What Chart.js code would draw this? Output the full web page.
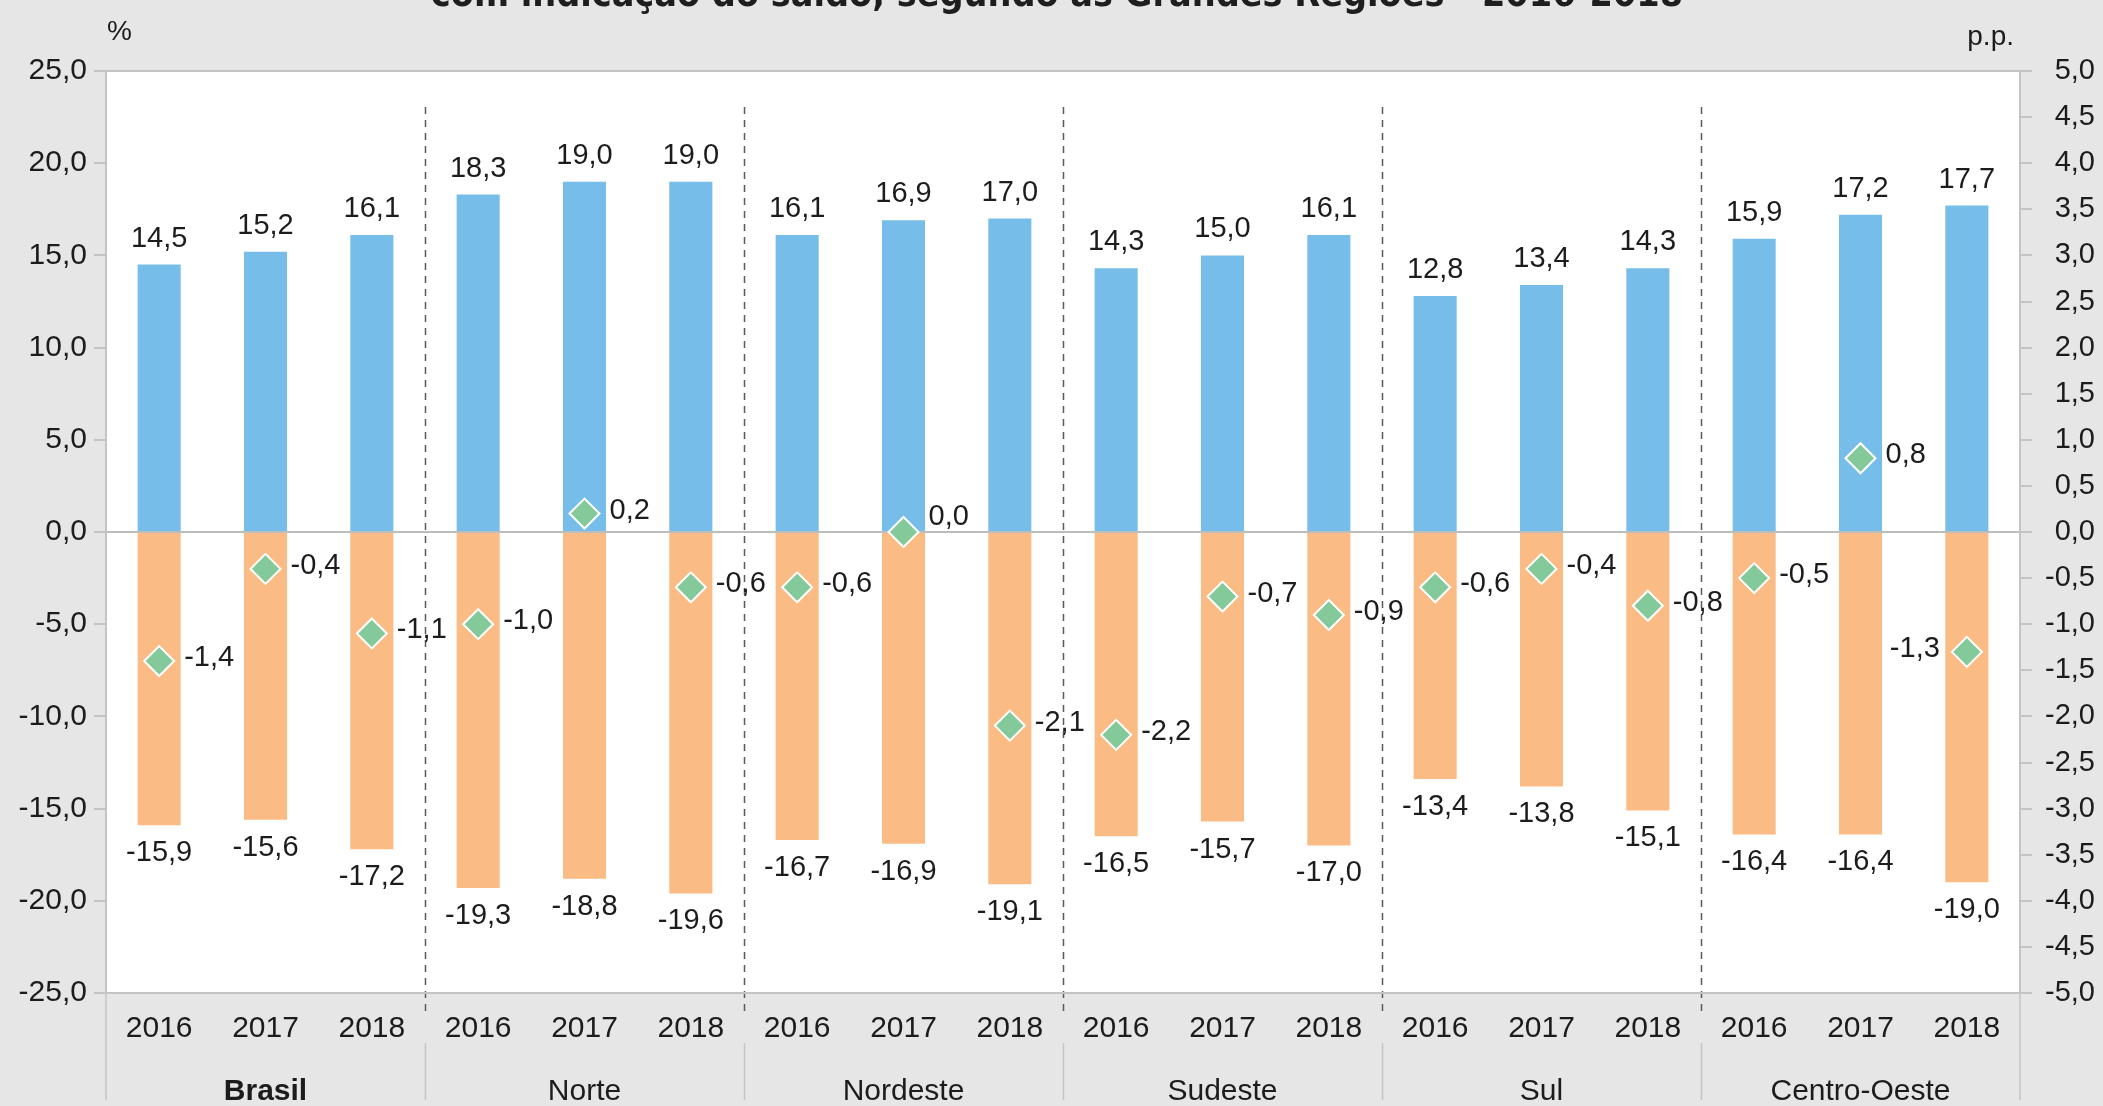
<!DOCTYPE html>
<html lang="pt-BR">
<head>
<meta charset="utf-8">
<title>Taxas de entrada e saída, com indicação do saldo</title>
<script src="https://cdn.jsdelivr.net/npm/chart.js@4.4.1/dist/chart.umd.min.js"></script>
<style>
  html, body { margin: 0; padding: 0; background: #e6e6e6; }
  #wrap { width: 2103px; height: 1106px; }
</style>
</head>
<body>
<div id="wrap"><canvas id="grafico" width="2103" height="1106"></canvas></div>
<script>
// Dados (taxas em %, saldo em p.p.)
const regioes = ['Brasil', 'Norte', 'Nordeste', 'Sudeste', 'Sul', 'Centro-Oeste'];
const anos = ['2016', '2017', '2018'];

const taxaEntrada = [14.5, 15.2, 16.1, 18.3, 19.0, 19.0, 16.1, 16.9, 17.0,
                     14.3, 15.0, 16.1, 12.8, 13.4, 14.3, 15.9, 17.2, 17.7];
const taxaSaida = [-15.9, -15.6, -17.2, -19.3, -18.8, -19.6, -16.7, -16.9, -19.1,
                   -16.5, -15.7, -17.0, -13.4, -13.8, -15.1, -16.4, -16.4, -19.0];
const saldo = [-1.4, -0.4, -1.1, -1.0, 0.2, -0.6, -0.6, 0.0, -2.1,
               -2.2, -0.7, -0.9, -0.6, -0.4, -0.8, -0.5, 0.8, -1.3];

const eixoPercent = { min: -25, max: 25, passo: 5 };
const eixoPP = { min: -5, max: 5, passo: 0.5 };

const categorias = regioes.flatMap(() => anos);

const FONTE = '"Liberation Sans", Arial, sans-serif';
const COR_TEXTO = '#1c1c1c';
const COR_LINHA = '#c4c4c4';
const TITULO = 'com indicação do saldo, segundo as Grandes Regiões - 2016-2018';

const fmt = v => v.toFixed(1).replace('.', ',');

// desenha fundo, separadores, rótulos e nomes das regiões
const extras = {
    id: 'extras',
    beforeDraw(chart) {
        const { ctx, chartArea: a } = chart;
        ctx.save();
        ctx.fillStyle = '#e6e6e6';
        ctx.fillRect(0, 0, chart.width, chart.height);
        ctx.fillStyle = '#ffffff';
        ctx.fillRect(a.left, a.top, a.right - a.left, a.bottom - a.top);
        ctx.restore();
    },
    beforeDatasetsDraw(chart) {
        const { ctx, chartArea: a, scales: { x } } = chart;
        ctx.save();
        ctx.strokeStyle = '#5a5a5a';
        ctx.lineWidth = 1.5;
        ctx.setLineDash([7, 6]);
        for (let g = 1; g < regioes.length; g++) {
            const i = g * anos.length;
            const px = Math.round((x.getPixelForValue(i - 1) + x.getPixelForValue(i)) / 2) + 0.5;
            ctx.beginPath();
            ctx.moveTo(px, a.top + 36);
            ctx.lineTo(px, a.bottom + 20);
            ctx.stroke();
        }
        ctx.restore();
    },
    afterDatasetsDraw(chart) {
        const { ctx } = chart;
        const barrasE = chart.getDatasetMeta(0).data;
        const barrasS = chart.getDatasetMeta(1).data;
        const pontos = chart.getDatasetMeta(2).data;
        ctx.save();
        ctx.font = '29px ' + FONTE;
        ctx.fillStyle = COR_TEXTO;
        ctx.textBaseline = 'middle';
        ctx.textAlign = 'center';
        barrasE.forEach((b, i) => ctx.fillText(fmt(taxaEntrada[i]), b.x, b.y - 26));
        barrasS.forEach((b, i) => ctx.fillText(fmt(taxaSaida[i]), b.x, b.y + 28));
        pontos.forEach((p, i) => {
            let dx = 25, dy = -3, alinh = 'left';
            if (saldo[i] === 0) dy = -15;
            if (i === pontos.length - 1) { dx = -27; alinh = 'right'; }
            ctx.textAlign = alinh;
            ctx.fillText(fmt(saldo[i]), p.x + dx, p.y + dy);
        });
        ctx.restore();
    },
    afterDraw(chart) {
        const { ctx, chartArea: a, scales: { x } } = chart;
        ctx.save();
        // moldura da área de plotagem
        ctx.strokeStyle = COR_LINHA;
        ctx.lineWidth = 2;
        ctx.strokeRect(a.left, a.top, a.right - a.left, a.bottom - a.top);

        // linhas verticais sob o eixo das categorias
        ctx.lineWidth = 1.5;
        ctx.beginPath();
        ctx.moveTo(a.left, a.bottom); ctx.lineTo(a.left, chart.height - 6);
        ctx.moveTo(a.right, a.bottom); ctx.lineTo(a.right, chart.height - 6);
        for (let g = 1; g < regioes.length; g++) {
            const i = g * anos.length;
            const px = Math.round((x.getPixelForValue(i - 1) + x.getPixelForValue(i)) / 2) + 0.5;
            ctx.moveTo(px, a.bottom + 50);
            ctx.lineTo(px, chart.height - 6);
        }
        ctx.stroke();

        // nomes das regiões
        ctx.fillStyle = COR_TEXTO;
        ctx.textAlign = 'center';
        ctx.textBaseline = 'middle';
        regioes.forEach((r, g) => {
            const cx = (x.getPixelForValue(g * 3) + x.getPixelForValue(g * 3 + 2)) / 2;
            ctx.font = (g === 0 ? 'bold ' : '') + '30px ' + FONTE;
            ctx.fillText(r, cx, 1092);
        });

        // unidades dos eixos
        ctx.font = '28px ' + FONTE;
        ctx.textBaseline = 'alphabetic';
        ctx.textAlign = 'left';
        ctx.fillText('%', 107, 40);
        ctx.textAlign = 'right';
        ctx.fillText('p.p.', 2014, 45);

        // última linha do título (cortada no topo), ajustada à largura original
        const famTitulo = '"Liberation Sans Narrow", "DejaVu Sans Condensed", sans-serif';
        ctx.font = 'bold 40px ' + famTitulo;
        const tam = 40 * 1251 / ctx.measureText(TITULO).width;
        ctx.font = 'bold ' + tam.toFixed(1) + 'px ' + famTitulo;
        ctx.textAlign = 'center';
        ctx.fillStyle = '#1e1e1e';
        ctx.fillText(TITULO, 1057, 6);
        ctx.restore();
    }
};

new Chart(document.getElementById('grafico'), {
    type: 'bar',
    data: {
        labels: categorias,
        datasets: [
            {
                label: 'Taxa de entrada',
                data: taxaEntrada,
                backgroundColor: '#76bde9',
                stack: 'taxas',
                barPercentage: 0.405,
                categoryPercentage: 1,
                order: 2
            },
            {
                label: 'Taxa de saída',
                data: taxaSaida,
                backgroundColor: '#fbbb85',
                stack: 'taxas',
                barPercentage: 0.405,
                categoryPercentage: 1,
                order: 2
            },
            {
                type: 'line',
                label: 'Saldo',
                data: saldo,
                yAxisID: 'y2',
                showLine: false,
                pointStyle: 'rectRot',
                pointRadius: 15,
                pointBackgroundColor: '#84c99a',
                pointBorderColor: '#ffffff',
                pointBorderWidth: 2,
                order: 1
            }
        ]
    },
    options: {
        responsive: false,
        animation: false,
        layout: { padding: { top: 71, left: 0, right: 8, bottom: 0 } },
        plugins: {
            legend: { display: false },
            tooltip: { enabled: false },
            title: { display: false }
        },
        scales: {
            x: {
                stacked: true,
                grid: { display: false, drawTicks: false },
                border: { display: false },
                ticks: {
                    color: COR_TEXTO,
                    font: { family: FONTE, size: 30 },
                    padding: 18,
                    maxRotation: 0,
                    autoSkip: false
                },
                afterFit(s) { s.height = 113; }
            },
            y: {
                stacked: true,
                position: 'left',
                min: eixoPercent.min,
                max: eixoPercent.max,
                border: { display: false },
                grid: {
                    color: c => (c.tick && c.tick.value === 0) ? '#bdbdbd' : 'rgba(0,0,0,0)',
                    lineWidth: 2,
                    tickColor: COR_LINHA,
                    tickLength: 12
                },
                ticks: {
                    stepSize: eixoPercent.passo,
                    color: COR_TEXTO,
                    font: { family: FONTE, size: 30 },
                    padding: 7,
                    callback: v => fmt(v)
                },
                afterFit(s) { s.width = 106; }
            },
            y2: {
                position: 'right',
                min: eixoPP.min,
                max: eixoPP.max,
                border: { display: false },
                grid: {
                    drawOnChartArea: false,
                    tickColor: COR_LINHA,
                    tickLength: 12,
                    lineWidth: 2
                },
                ticks: {
                    stepSize: eixoPP.passo,
                    color: COR_TEXTO,
                    font: { family: FONTE, size: 29 },
                    padding: 12,
                    crossAlign: 'far',
                    callback: v => fmt(v)
                },
                afterFit(s) { s.width = 75; }
            }
        }
    },
    plugins: [extras]
});
</script>
</body>
</html>
